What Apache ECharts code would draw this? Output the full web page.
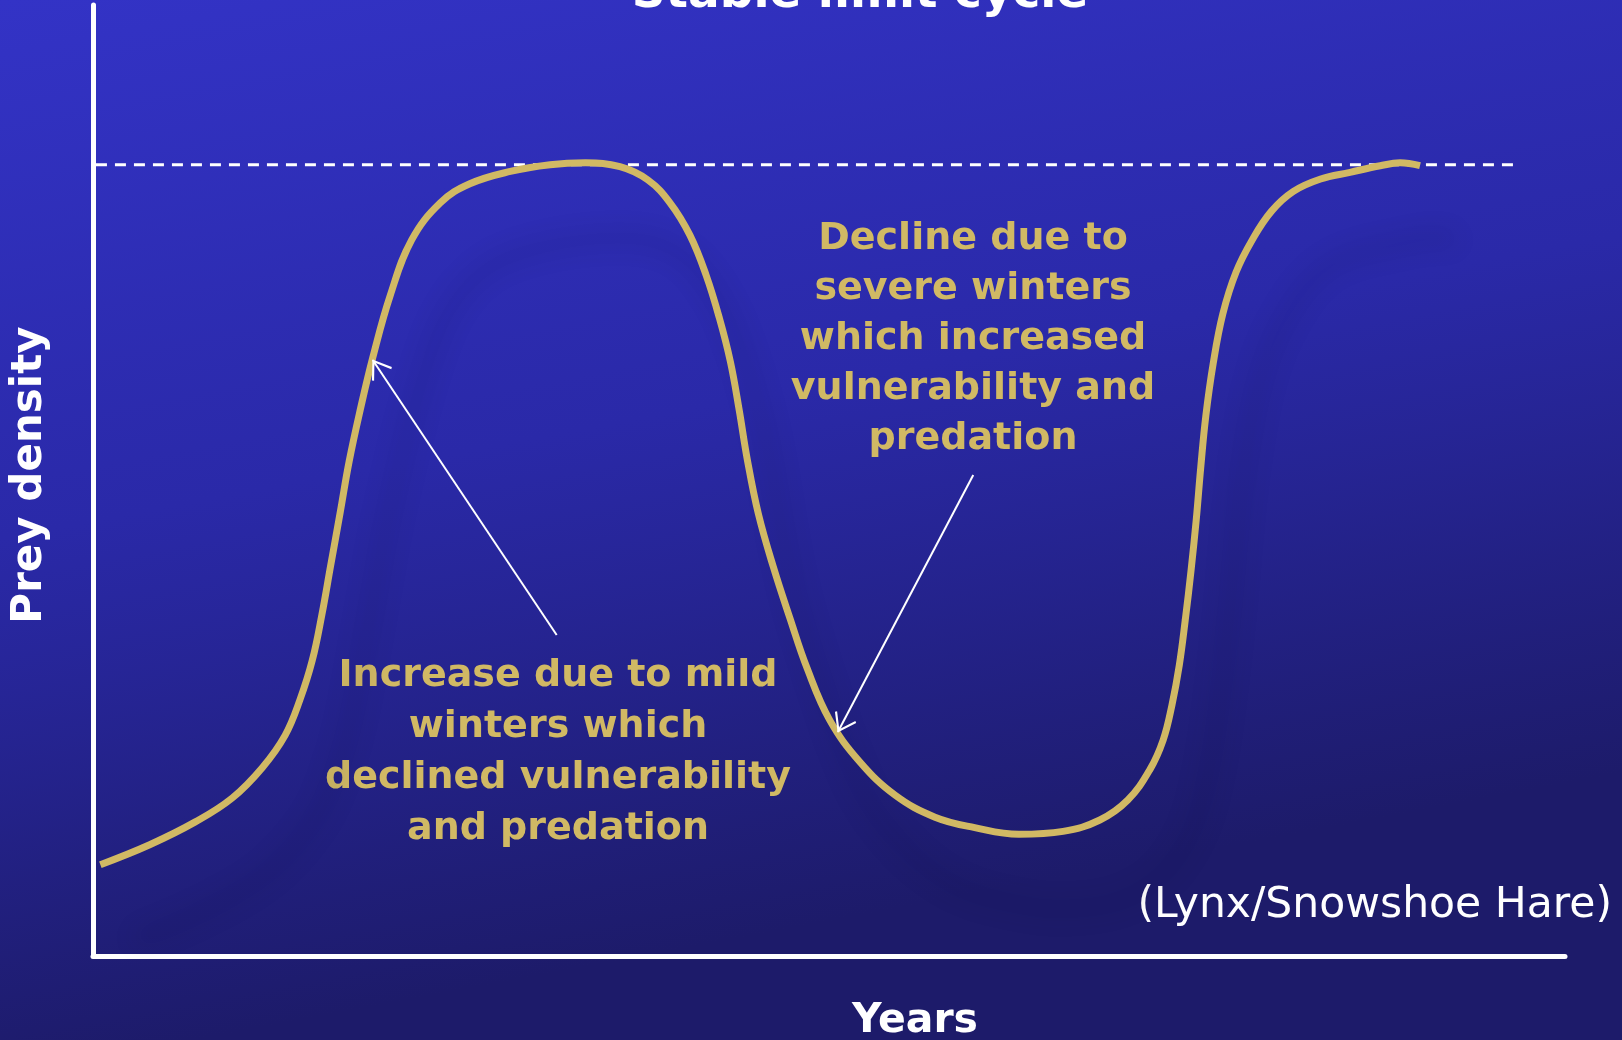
<!DOCTYPE html>
<html>
<head>
<meta charset="utf-8">
<title>Stable limit cycle</title>
<script src="https://cdn.jsdelivr.net/npm/echarts@6/dist/echarts.min.js"></script>
<style>
  html, body { margin: 0; padding: 0; }
  #chart { width: 1622px; height: 1040px; }
</style>
</head>
<body>
<div id="chart"></div>
<script>
// prey curve (years vs relative density, 0-100)
const years = [0.10, 0.77, 1.39, 1.89, 2.30, 2.61, 2.81, 2.98, 3.11, 3.23, 3.36, 3.48, 3.63, 3.80, 4.04, 4.33,
  4.72, 5.12, 5.67, 6.21, 6.69, 7.16, 7.54, 7.84, 8.11, 8.33, 8.51, 8.66, 8.78, 8.89, 9.04, 9.24,
  9.47, 9.70, 10.01, 10.42, 10.90, 11.44, 11.98, 12.58, 13.18, 13.68, 14.06, 14.36, 14.54, 14.66,
  14.76, 14.84, 14.92, 14.99, 15.05, 15.12, 15.22, 15.35, 15.53, 15.75, 16.01, 16.31, 16.68, 17.08,
  17.49, 17.76, 18.03];
const density = [9.6, 11.7, 14.1, 16.6, 19.8, 23.2, 26.9, 31.1, 35.9, 41.1, 46.7, 52.0, 57.4, 62.9, 69.5, 75.3,
  79.2, 81.2, 82.5, 83.2, 83.4, 83.0, 81.6, 79.2, 75.8, 71.6, 67.1, 62.5, 57.4, 52.2, 46.5, 41.0,
  35.5, 30.3, 24.8, 20.4, 16.9, 14.6, 13.5, 12.8, 13.1, 14.3, 16.4, 19.6, 22.7, 26.4,
  30.6, 35.3, 40.6, 45.9, 51.3, 56.8, 62.3, 67.5, 71.9, 75.3, 78.3, 80.4, 81.7, 82.4,
  83.1, 83.4, 83.1];

// carrying capacity (dashed line)
const carryingYears = [0.04, 19.35];
const carryingK = 83.2;

// annotation arrows: [from, to]
const arrowIncrease = [[6.30, 33.75], [3.80, 62.67]];
const arrowDecline = [[11.96, 50.58], [10.12, 23.55]];

const gold = '#D1B964';
const chevron = 'path://M10,0L10.02,0L10,0.02Z M10,14.6L20,28.8L18.6,30L10,17.6L1.4,30L0,28.8Z';

const chart = echarts.init(document.getElementById('chart'));

const option = {
  animation: false,
  backgroundColor: {
    type: 'linear', x: 0, y: 0, x2: 0.12, y2: 1,
    colorStops: [
      {offset: 0, color: '#3333C6'},
      {offset: 0.5, color: '#2A29A8'},
      {offset: 1, color: '#1D1B6A'}
    ]
  },
  grid: {left: 93, right: 57, top: 5, bottom: 84},
  xAxis: {
    type: 'value', min: 0, max: 20,
    axisLine: {show: true, onZero: false, lineStyle: {color: '#ffffff', width: 5}},
    axisTick: {show: false}, axisLabel: {show: false}, splitLine: {show: false}
  },
  yAxis: {
    type: 'value', min: 0, max: 100,
    axisLine: {show: true, onZero: false, lineStyle: {color: '#ffffff', width: 5}},
    axisTick: {show: false}, axisLabel: {show: false}, splitLine: {show: false}
  },
  series: [
    {
      name: 'K',
      type: 'line',
      z: 1,
      symbol: 'none',
      silent: true,
      data: carryingYears.map(x => [x, carryingK]),
      lineStyle: {color: '#ffffff', width: 3, type: [11, 8]}
    },
    {
      name: 'Prey',
      type: 'line',
      z: 2,
      symbol: 'none',
      smooth: 0.4,
      silent: true,
      data: years.map((x, i) => [x, density[i]]),
      lineStyle: {
        color: gold, width: 7,
        shadowColor: 'rgba(12,12,60,0.22)', shadowBlur: 24,
        shadowOffsetX: 35, shadowOffsetY: 75
      },
      markLine: {
        silent: true,
        symbol: ['none', chevron],
        symbolSize: [24, 36],
        label: {show: false},
        lineStyle: {color: '#ffffff', width: 2, type: 'solid'},
        data: [
          [{coord: arrowIncrease[0]}, {coord: arrowIncrease[1]}],
          [{coord: arrowDecline[0]}, {coord: arrowDecline[1]}]
        ]
      }
    }
  ],
  graphic: [
    {
      type: 'text', x: 860, y: -5,
      style: {
        text: 'Stable limit cycle', fill: '#ffffff',
        font: 'bold 47px "DejaVu Sans"', textAlign: 'center', textVerticalAlign: 'middle',
        shadowColor: 'rgba(10,10,50,0.8)', shadowOffsetX: 3, shadowOffsetY: 3, shadowBlur: 3
      }
    },
    {
      type: 'text', x: 30, y: 475, rotation: Math.PI / 2,
      style: {
        text: 'Prey density', fill: '#ffffff',
        font: 'bold 42px "DejaVu Sans"', textAlign: 'center', textVerticalAlign: 'middle',
        shadowColor: 'rgba(10,10,50,0.8)', shadowOffsetX: 3, shadowOffsetY: 3, shadowBlur: 3
      }
    },
    {
      type: 'text', x: 915, y: 1021,
      style: {
        text: 'Years', fill: '#ffffff',
        font: 'bold 41px "DejaVu Sans"', textAlign: 'center', textVerticalAlign: 'middle',
        shadowColor: 'rgba(10,10,50,0.8)', shadowOffsetX: 3, shadowOffsetY: 3, shadowBlur: 3
      }
    },
    {
      type: 'text', x: 1612, y: 906,
      style: {
        text: '(Lynx/Snowshoe Hare)', fill: '#ffffff',
        font: '42.5px "DejaVu Sans"', textAlign: 'right', textVerticalAlign: 'middle'
      }
    },
    {
      type: 'text', x: 558, y: 753,
      style: {
        text: 'Increase due to mild\nwinters which\ndeclined vulnerability\nand predation',
        fill: gold, font: 'bold 38px "DejaVu Sans"', lineHeight: 51,
        textAlign: 'center', textVerticalAlign: 'middle',
        shadowColor: 'rgba(10,10,50,0.85)', shadowOffsetX: 2, shadowOffsetY: 3, shadowBlur: 3
      }
    },
    {
      type: 'text', x: 973, y: 339,
      style: {
        text: 'Decline due to\nsevere winters\nwhich increased\nvulnerability and\npredation',
        fill: gold, font: 'bold 38px "DejaVu Sans"', lineHeight: 50,
        textAlign: 'center', textVerticalAlign: 'middle',
        shadowColor: 'rgba(10,10,50,0.85)', shadowOffsetX: 2, shadowOffsetY: 3, shadowBlur: 3
      }
    }
  ]
};

chart.setOption(option);
window.onresize = function () { chart.resize(); };
</script>
</body>
</html>
